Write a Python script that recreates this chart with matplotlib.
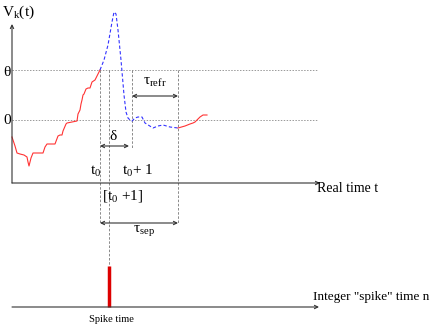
import numpy as np
import matplotlib.pyplot as plt

plt.rcParams['font.family'] = ['Liberation Serif', 'DejaVu Serif']

# membrane potential (diagram pixel coords), red before spike
pre_x = [12, 15, 17, 20, 24, 27, 28, 29, 31, 33, 36, 43, 45, 47, 52, 55, 58, 60, 62, 63, 66, 67, 72,
         77, 78, 80, 81, 82, 83, 84, 86, 88, 90, 92, 95, 97, 100]
pre_y = [137, 146, 153, 154, 155, 157, 162, 166, 158, 153, 153, 153, 147, 144, 144, 144, 136, 135, 135,
         131, 124, 123, 122, 121, 114, 110, 104, 100, 95, 94, 89, 88, 88, 82, 80, 76, 70]
# dashed blue: spike and refractory period
spk_x = [100, 104, 108, 112, 114, 116, 118, 121, 124, 126, 128, 130, 132, 135, 138, 142, 145, 153, 158, 163, 170, 178]
spk_y = [70, 60, 45, 22, 12, 14, 30, 60, 95, 112, 118, 120, 121, 118, 117, 117, 123, 128, 126, 125, 127, 128]
# red after refractory
post_x = [178, 185, 190, 193, 195, 200, 203, 207]
post_y = [128, 126, 124, 123, 122, 117, 115, 115]

y_theta, y_zero = 70, 120
x_t0, x_int, x_t1, x_ref = 100, 109, 132, 178

fig = plt.figure(figsize=(4.36, 3.27), dpi=100)
ax = fig.add_axes([0, 0, 1, 1])
ax.set_xlim(0, 436)
ax.set_ylim(327, 0)
ax.axis('off')

arr = dict(arrowstyle='->', color='#333333', lw=0.8, shrinkA=0, shrinkB=0, mutation_scale=6)
arr2 = dict(arrowstyle='<->', color='#333333', lw=0.8, shrinkA=0, shrinkB=0, mutation_scale=6)

# axes
ax.annotate('', xy=(12, 24), xytext=(12, 183), arrowprops=arr)
ax.annotate('', xy=(320, 183), xytext=(12, 183), arrowprops=arr)
ax.annotate('', xy=(319, 307), xytext=(12, 307), arrowprops=arr)

# threshold / zero lines
for yy in (y_theta, y_zero):
    ax.plot([12, 318], [yy, yy], color='#999999', lw=0.7, ls=(0, (1.5, 1.5)))

# vertical guide lines
ax.plot([x_t0, x_t0], [y_theta, 224], color='#777777', lw=0.6, ls=(0, (3, 2)))
ax.plot([x_int, x_int], [y_theta, 266], color='#777777', lw=0.6, ls=(0, (3, 2)))
ax.plot([x_t1, x_t1], [y_theta, 148], color='#777777', lw=0.6, ls=(0, (3, 2)))
ax.plot([x_ref, x_ref], [y_theta, 224], color='#777777', lw=0.6, ls=(0, (3, 2)))

# curve
ax.plot(pre_x, pre_y, color='#ff3333', lw=0.8)
ax.plot(spk_x, spk_y, color='#3333ff', lw=0.8, ls=(0, (3, 2)))
ax.plot(post_x, post_y, color='#ff3333', lw=0.8)

# interval arrows
ax.annotate('', xy=(x_t1 - 3, 146), xytext=(x_t0, 146), arrowprops=arr2)
ax.annotate('', xy=(x_ref, 96), xytext=(x_t1, 96), arrowprops=arr2)
ax.annotate('', xy=(x_ref, 223), xytext=(x_t0, 223), arrowprops=arr2)

# spike
ax.plot([x_int, x_int], [266, 307], color='#dd0000', lw=2.5, solid_capstyle='butt')

fs = 11
ax.text(2, 12, r'V$_\mathregular{k}$(t)', fontsize=fs, va='center')
ax.text(3, 72, 'θ', fontsize=fs, va='center')
ax.text(3, 121, '0', fontsize=fs, va='center')
ax.text(113, 137, 'δ', fontsize=fs, ha='center', va='center')
ax.text(96, 171, r't$_\mathregular{0}$', fontsize=fs, ha='center', va='center')
ax.text(138, 171, r't$_\mathregular{0}$+ 1', fontsize=fs, ha='center', va='center')
ax.text(123, 197, r'[t$_\mathregular{0}$ +1]', fontsize=fs, ha='center', va='center')
ax.text(155, 82, r'τ$_\mathregular{refr}$', fontsize=fs, ha='center', va='center')
ax.text(144, 231, r'τ$_\mathregular{sep}$', fontsize=fs, ha='center', va='center')
ax.text(317, 188, 'Real time t', fontsize=10, va='center')
ax.text(313, 297, 'Integer "spike" time n', fontsize=9.5, va='center')
ax.text(111, 320, 'Spike time', fontsize=7.5, ha='center', va='center')

fig.savefig('out.png', dpi=100)
